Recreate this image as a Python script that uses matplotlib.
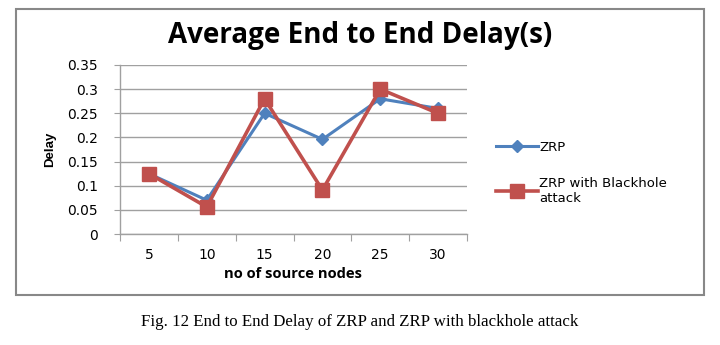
import matplotlib.pyplot as plt
from matplotlib.patches import Rectangle
import numpy as np

# data
nodes = ['5', '10', '15', '20', '25', '30']
zrp = [0.125, 0.07, 0.25, 0.196, 0.28, 0.26]
zrp_blackhole = [0.125, 0.056, 0.28, 0.091, 0.30, 0.25]
yticks = [0, 0.05, 0.1, 0.15, 0.2, 0.25, 0.3, 0.35]
ytick_labels = ['0', '0.05', '0.1', '0.15', '0.2', '0.25', '0.3', '0.35']

blue = '#4F81BD'
red = '#C0504D'
grid_col = '#A0A0A0'

fig = plt.figure(figsize=(7.2, 3.45), dpi=100)
fig.patch.set_facecolor('white')

# outer chart frame
fig.add_artist(Rectangle((16/720, 1-295/345), (704-16)/720, (295-9)/345,
                         transform=fig.transFigure, fill=False,
                         edgecolor='#888888', linewidth=1.5))

ax = fig.add_axes([120/720, 1-234/345, 347/720, 169/345])
x = np.arange(1, len(nodes)+1)

ax.plot(x, zrp, color=blue, lw=2.2, marker='D', ms=6.5, label='ZRP', zorder=3)
ax.plot(x, zrp_blackhole, color=red, lw=2.6, marker='s', ms=10,
        label='ZRP with Blackhole\nattack', zorder=4)

ax.set_xlim(0.5, len(nodes)+0.5)
ax.set_ylim(0, 0.35)
ax.set_yticks(yticks)
ax.set_yticklabels(ytick_labels, family='DejaVu Sans', fontsize=10)
ax.yaxis.grid(True, color=grid_col, lw=1)
ax.set_axisbelow(True)

# x ticks between categories, labels at centres
ax.set_xticks(np.arange(0.5, len(nodes)+1, 1))
ax.set_xticklabels([])
ax.set_xticks(x, minor=True)
ax.set_xticklabels(nodes, minor=True, family='DejaVu Sans', fontsize=10)
ax.tick_params(axis='x', which='minor', length=0, pad=10)
ax.tick_params(axis='x', which='major', length=5, color=grid_col, direction='out')
ax.tick_params(axis='y', length=4, color=grid_col, direction='out', pad=12)

for s in ['top', 'right']:
    ax.spines[s].set_visible(False)
for s in ['left', 'bottom']:
    ax.spines[s].set_color(grid_col)
    ax.spines[s].set_linewidth(1)

ax.set_xlabel('no of source nodes', fontsize=10.6, fontweight='bold',
              family='Open Sans', labelpad=4)
ax.set_ylabel('Delay', fontsize=9.5, fontweight='bold',
              family=['Liberation Sans Narrow', 'Liberation Sans'], labelpad=8)

fig.text(360/720, 1-36/345, 'Average End to End Delay(s)', ha='center', va='center',
         fontsize=20, fontweight='bold', family='Open Sans')

leg = fig.legend(loc='upper left', bbox_to_anchor=(484/720, 1-129/345),
                 frameon=False, handlelength=3.2,
                 labelspacing=1.75, handletextpad=0.1,
                 prop={'family': 'DejaVu Sans', 'size': 9.5})

fig.text(360/720, 1-322/345, 'Fig. 12 End to End Delay of ZRP and ZRP with blackhole attack',
         ha='center', va='center', fontsize=12.2, family='Liberation Serif')

fig.savefig('out.png', dpi=100)
